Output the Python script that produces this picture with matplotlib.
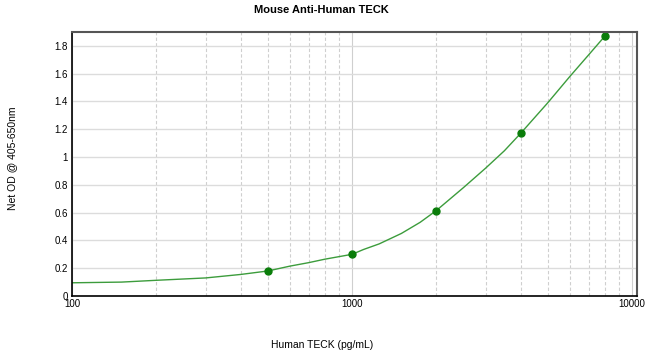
import matplotlib
matplotlib.use("Agg")
from matplotlib import pyplot as plt
from matplotlib.ticker import FixedLocator, FixedFormatter, NullFormatter

plt.rcParams['font.family'] = ['Liberation Sans', 'DejaVu Sans']

# standard points
conc = [500, 1000, 2000, 4000, 8000]
od = [0.18, 0.30, 0.615, 1.17, 1.87]

# fitted curve
curve_x = [100, 150, 200, 300, 400, 500, 600, 700, 800, 1000, 1100, 1250,
           1500, 1750, 2000, 2500, 3000, 3500, 4000, 5000, 6000, 7000, 8000, 8500]
curve_y = [0.095, 0.10, 0.113, 0.13, 0.155, 0.18, 0.215, 0.24, 0.265, 0.30,
           0.335, 0.375, 0.45, 0.53, 0.615, 0.78, 0.92, 1.045, 1.17, 1.39,
           1.58, 1.735, 1.87, 1.93]

y_ticks = [0, 0.2, 0.4, 0.6, 0.8, 1, 1.2, 1.4, 1.6, 1.8]
y_labels = ['0', '0.2', '0.4', '0.6', '0.8', '1', '1.2', '1.4', '1.6', '1.8']
x_ticks = [100, 1000, 10000]
x_labels = ['100', '1000', '10000']
x_minor = [200, 300, 400, 500, 600, 700, 800, 900,
           2000, 3000, 4000, 5000, 6000, 7000, 8000, 9000]

fig = plt.figure(figsize=(6.5, 3.59), dpi=100)
ax = fig.add_axes([0.111, 0.1755, 0.869, 0.7355])

ax.set_xscale('log')
ax.set_xlim(100, 10420)
ax.set_ylim(0, 1.9)

ax.xaxis.set_major_locator(FixedLocator(x_ticks))
ax.xaxis.set_major_formatter(FixedFormatter(x_labels))
ax.xaxis.set_minor_locator(FixedLocator(x_minor))
ax.xaxis.set_minor_formatter(NullFormatter())
ax.yaxis.set_major_locator(FixedLocator(y_ticks))
ax.yaxis.set_major_formatter(FixedFormatter(y_labels))

ax.grid(which='major', axis='y', color='#dcdcdc', lw=1.0, ls='-')
ax.grid(which='major', axis='x', color='#cfcfcf', lw=0.8, ls='-')
ax.grid(which='minor', axis='x', color='#cfcfcf', lw=0.8, ls=(0, (3, 2)))
ax.set_axisbelow(True)

ax.tick_params(which='both', length=0, labelsize=7, pad=3)
ax.tick_params(axis='x', pad=2)

for side in ['left', 'bottom']:
    ax.spines[side].set_color('black')
    ax.spines[side].set_linewidth(1.2)
for side in ['top', 'right']:
    ax.spines[side].set_color('#555555')
    ax.spines[side].set_linewidth(1.5)

ax.plot(curve_x, curve_y, color='#3c9c3c', lw=1.0, clip_on=True)
ax.plot(conc, od, 'o', color='#0a7d0a', ms=5, clip_on=False)

fig.text(0.495, 0.972, 'Mouse Anti-Human TECK', ha='center', va='center',
         fontsize=8, fontweight='bold')
fig.text(0.495, 0.038, 'Human TECK (pg/mL)', ha='center', va='center', fontsize=7.5)
fig.text(0.019, 0.56, 'Net OD @ 405-650nm', ha='center', va='center',
         rotation=90, fontsize=7.5)

fig.savefig('out.png', dpi=100)
